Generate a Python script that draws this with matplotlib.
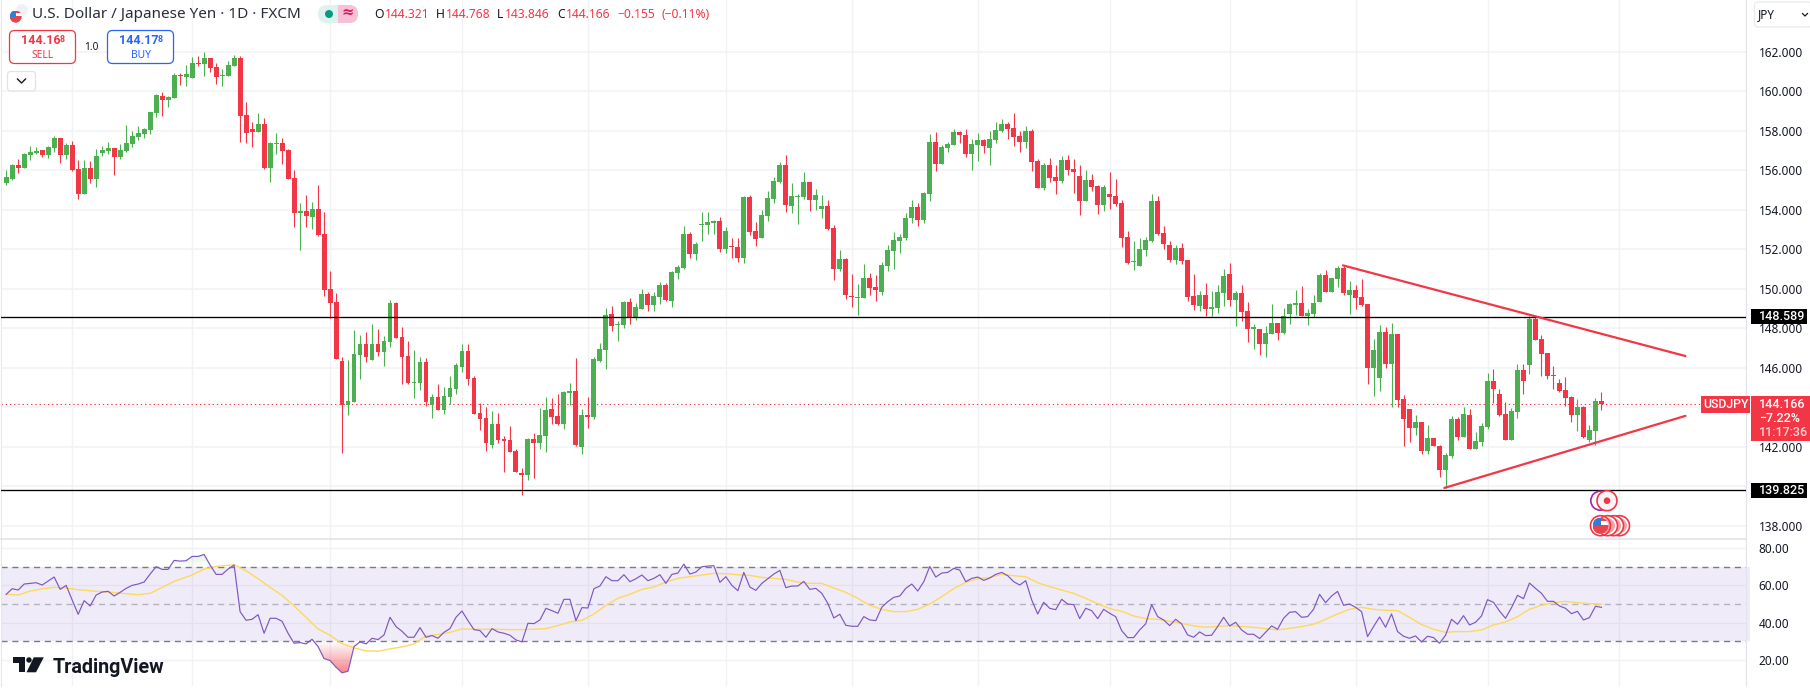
"""USD/JPY daily candles with RSI pane, TradingView style."""
import matplotlib
matplotlib.use("Agg")
import matplotlib.pyplot as plt
import numpy as np
from matplotlib.patches import Circle, FancyBboxPatch, Polygon, Rectangle
from matplotlib.path import Path

plt.rcParams["font.family"] = ["Noto Sans", "DejaVu Sans"]

W, H = 1810, 689
RED = "#f23645"
GREEN = "#4caf50"
BLUE = "#2962ff"
INK = "#131722"
GRID = "#f1f2f5"

opens = [
    155.35, 155.57, 156.24, 156.13, 156.78, 156.87, 157.00, 156.77, 157.14, 157.63,
    156.78, 157.27, 156.06, 154.81, 156.11, 155.57, 156.87, 156.97, 157.12, 156.67,
    156.97, 157.32, 157.68, 157.83, 158.03, 158.89, 159.75, 159.55, 159.65, 160.83,
    160.72, 160.67, 161.43, 161.37, 161.68, 161.22, 160.77, 160.77, 161.27, 161.68,
    158.79, 158.08, 157.93, 158.34, 156.11, 157.32, 157.37, 157.02, 155.60, 153.83,
    153.93, 153.63, 154.03, 152.77, 149.98, 149.32, 146.34, 144.11, 144.26, 146.64,
    147.20, 146.39, 147.20, 146.79, 147.30, 149.27, 147.55, 146.59, 145.22, 145.22,
    146.29, 144.11, 144.51, 143.86, 144.51, 144.92, 146.03, 146.84, 145.48, 143.70,
    143.45, 142.08, 143.15, 142.39, 142.34, 141.78, 140.67, 140.56, 142.39, 142.18,
    142.54, 143.91, 143.55, 143.15, 144.72, 144.82, 141.98, 143.60, 143.50, 146.34,
    146.89, 148.72, 148.16, 148.16, 149.32, 148.51, 148.97, 149.73, 149.17, 149.58,
    150.18, 149.37, 150.79, 151.05, 152.77, 151.75, 153.22, 153.22, 153.32, 153.43,
    152.01, 152.16, 152.11, 151.55, 154.64, 152.92, 152.56, 153.68, 154.54, 155.40,
    156.26, 154.18, 154.66, 154.64, 155.40, 154.49, 154.03, 154.18, 153.07, 150.99,
    151.50, 149.63, 149.53, 149.53, 150.54, 150.08, 149.83, 151.15, 151.91, 152.41,
    152.56, 153.58, 154.13, 153.48, 154.79, 157.43, 156.31, 157.12, 157.27, 157.93,
    157.78, 156.82, 157.27, 157.53, 157.12, 157.53, 157.98, 158.34, 158.13, 157.73,
    157.43, 157.98, 156.46, 155.10, 156.26, 155.65, 155.45, 156.51, 156.06, 155.70,
    154.44, 155.50, 155.20, 154.24, 154.79, 154.69, 154.34, 152.62, 151.35, 151.15,
    151.96, 152.41, 154.44, 152.82, 152.21, 151.45, 152.06, 151.45, 149.63, 149.12,
    149.68, 148.97, 149.02, 149.78, 150.74, 149.43, 149.78, 148.87, 147.96, 147.96,
    147.20, 147.71, 148.26, 147.76, 148.72, 149.17, 149.27, 148.62, 148.72, 149.33,
    150.69, 149.83, 150.49, 151.05, 149.68, 149.93, 149.58, 149.22, 145.98, 145.48,
    147.81, 146.19, 147.71, 144.41, 143.91, 142.95, 143.25, 141.78, 142.44, 142.03,
    140.82, 141.53, 143.40, 142.49, 143.60, 141.88, 142.24, 142.99, 145.33, 144.67,
    143.66, 142.34, 143.76, 145.88, 146.14, 148.47, 147.45, 146.74, 145.63, 145.22,
    144.87, 144.52, 143.60, 144.01, 142.34, 142.79, 144.321,
]
highs = [
    156.01, 156.31, 156.56, 156.87, 157.21, 157.16, 157.00, 157.21, 157.73, 157.63,
    157.37, 157.48, 156.51, 156.51, 156.46, 157.07, 157.21, 157.43, 157.12, 157.32,
    158.29, 157.98, 158.24, 158.13, 158.94, 159.86, 159.96, 159.75, 160.92, 160.92,
    161.32, 161.73, 161.78, 161.98, 161.68, 161.43, 161.12, 161.53, 161.83, 161.78,
    159.45, 158.44, 158.89, 158.64, 157.43, 157.88, 157.63, 157.07, 156.01, 154.34,
    154.74, 154.39, 155.25, 153.88, 150.89, 149.78, 146.54, 146.39, 147.91, 147.65,
    147.80, 148.21, 147.96, 147.60, 149.42, 149.34, 148.06, 147.35, 146.89, 146.54,
    146.49, 144.67, 145.17, 145.02, 145.58, 146.23, 147.20, 147.20, 145.58, 144.21,
    144.01, 143.80, 143.70, 142.54, 143.05, 141.88, 140.92, 142.44, 142.69, 143.96,
    144.51, 144.46, 144.67, 144.82, 145.22, 146.49, 143.91, 144.51, 146.54, 147.25,
    149.02, 149.12, 148.36, 149.37, 149.53, 149.27, 149.98, 149.83, 149.83, 150.34,
    150.29, 150.89, 151.20, 153.17, 152.87, 152.36, 153.88, 153.88, 153.48, 153.63,
    153.12, 152.56, 152.56, 154.69, 154.74, 153.37, 153.98, 154.94, 155.65, 156.41,
    156.77, 155.35, 154.79, 155.91, 155.40, 155.05, 154.74, 154.49, 153.22, 151.96,
    151.55, 150.74, 150.24, 151.25, 150.79, 150.69, 151.35, 152.21, 152.87, 152.77,
    153.83, 154.49, 154.34, 154.89, 157.83, 157.93, 157.27, 157.43, 158.08, 157.98,
    158.08, 157.58, 157.88, 157.58, 157.98, 158.44, 158.59, 158.44, 158.89, 157.98,
    158.24, 158.08, 156.56, 156.36, 156.62, 156.26, 156.72, 156.77, 156.56, 156.26,
    156.01, 155.80, 155.25, 155.25, 155.91, 155.55, 154.49, 152.92, 152.41, 152.56,
    152.62, 154.79, 154.69, 153.17, 152.41, 152.21, 152.31, 151.45, 150.74, 149.88,
    150.29, 149.88, 150.19, 151.00, 151.30, 149.88, 150.19, 149.33, 148.21, 147.96,
    148.11, 149.22, 148.26, 149.02, 149.27, 149.93, 150.14, 148.97, 149.68, 150.79,
    150.95, 150.54, 151.15, 151.15, 150.39, 150.19, 150.49, 149.22, 147.45, 148.16,
    148.06, 148.26, 147.71, 144.62, 143.91, 143.60, 143.25, 143.10, 142.44, 142.08,
    141.68, 143.55, 143.50, 144.01, 143.91, 142.74, 143.20, 145.73, 145.93, 144.92,
    144.26, 143.96, 146.19, 146.19, 148.62, 148.57, 147.65, 146.74, 146.09, 145.43,
    145.53, 144.57, 144.41, 144.06, 143.10, 144.47, 144.768,
]
lows = [
    155.25, 155.50, 155.87, 156.11, 156.51, 156.82, 156.68, 156.62, 156.94, 156.36,
    156.58, 155.97, 154.56, 154.81, 155.35, 155.15, 156.72, 156.82, 155.75, 156.56,
    156.92, 157.17, 157.53, 157.63, 157.83, 158.69, 158.74, 159.20, 159.65, 160.31,
    160.26, 160.67, 161.27, 160.77, 160.97, 160.36, 160.26, 160.77, 161.27, 157.43,
    157.37, 157.17, 157.93, 156.06, 155.40, 156.82, 156.31, 155.55, 153.12, 151.96,
    153.12, 153.02, 152.67, 149.63, 148.53, 146.44, 141.68, 143.60, 144.26, 145.43,
    146.29, 146.39, 146.59, 146.08, 147.05, 147.50, 145.17, 145.17, 144.46, 144.87,
    144.06, 143.45, 143.86, 143.65, 144.16, 144.67, 145.78, 145.12, 143.65, 142.84,
    141.78, 141.93, 142.18, 140.72, 141.73, 140.72, 139.55, 140.31, 140.41, 141.88,
    141.73, 143.15, 143.10, 142.89, 144.11, 142.03, 141.63, 142.94, 143.40, 146.29,
    145.93, 147.86, 147.35, 148.01, 148.21, 148.41, 148.97, 148.87, 148.87, 149.22,
    149.37, 149.07, 150.49, 151.00, 151.55, 151.45, 152.41, 152.77, 152.77, 151.86,
    151.80, 151.55, 151.35, 151.30, 152.72, 152.16, 152.56, 153.43, 154.34, 155.35,
    153.88, 153.83, 153.27, 154.54, 153.93, 153.98, 153.58, 152.97, 150.44, 150.89,
    149.48, 149.07, 148.67, 149.53, 149.68, 149.37, 149.68, 150.89, 150.99, 151.80,
    152.46, 153.32, 153.17, 153.32, 154.44, 155.96, 156.31, 156.92, 157.27, 157.37,
    156.67, 156.01, 156.46, 156.87, 156.26, 157.37, 157.93, 157.58, 157.22, 156.92,
    157.12, 155.96, 155.10, 155.00, 155.40, 154.79, 155.35, 155.75, 154.84, 153.73,
    154.44, 154.94, 153.78, 153.93, 154.03, 154.18, 152.11, 151.25, 150.94, 151.15,
    151.65, 152.36, 152.72, 152.01, 151.35, 151.25, 151.25, 149.37, 148.92, 148.87,
    148.62, 148.62, 148.77, 149.12, 149.12, 148.11, 148.36, 147.30, 146.95, 146.64,
    146.54, 147.71, 147.40, 147.71, 148.21, 148.67, 148.62, 148.16, 148.57, 149.33,
    149.83, 149.83, 150.08, 149.68, 148.72, 148.97, 149.12, 145.17, 144.57, 144.82,
    145.98, 144.01, 144.01, 142.03, 142.24, 142.59, 141.63, 141.63, 142.03, 140.47,
    139.91, 141.43, 142.34, 142.49, 141.88, 141.88, 142.03, 142.90, 144.21, 143.55,
    142.34, 142.34, 143.45, 144.67, 145.68, 147.40, 145.58, 145.43, 144.92, 144.77,
    144.06, 143.25, 142.79, 142.44, 142.24, 142.09, 143.846,
]
closes = [
    155.65, 156.24, 156.11, 156.82, 156.92, 156.97, 156.77, 157.17, 157.63, 156.78,
    157.27, 156.02, 154.81, 156.11, 155.57, 156.72, 157.02, 157.12, 156.67, 157.02,
    157.38, 157.73, 157.88, 158.08, 158.94, 159.81, 159.55, 159.70, 160.82, 160.78,
    160.87, 161.43, 161.36, 161.68, 161.17, 160.72, 160.82, 161.32, 161.68, 158.74,
    157.88, 157.93, 158.34, 156.11, 157.37, 157.37, 156.97, 155.55, 153.83, 153.93,
    153.68, 154.03, 152.72, 149.93, 149.27, 146.44, 144.11, 144.31, 146.69, 147.20,
    146.54, 147.20, 146.79, 147.35, 149.27, 147.50, 146.54, 145.22, 145.27, 146.29,
    144.26, 144.51, 143.86, 144.56, 144.97, 146.13, 146.84, 145.43, 143.65, 143.40,
    142.18, 143.15, 142.34, 142.29, 141.73, 140.72, 140.56, 142.39, 142.18, 142.59,
    143.86, 143.50, 143.15, 144.77, 144.82, 142.08, 143.60, 143.50, 146.44, 146.94,
    148.67, 148.11, 148.21, 149.32, 148.51, 149.07, 149.73, 149.17, 149.63, 150.18,
    149.43, 150.84, 151.10, 152.77, 151.75, 152.26, 153.27, 153.37, 153.43, 152.01,
    152.92, 152.11, 151.55, 154.64, 152.87, 152.51, 153.73, 154.59, 155.45, 156.26,
    154.24, 154.69, 154.71, 155.40, 154.49, 154.74, 154.18, 153.02, 150.99, 151.50,
    149.68, 149.58, 149.58, 150.54, 150.03, 149.93, 151.20, 151.96, 152.46, 152.62,
    153.58, 154.13, 153.48, 154.84, 157.43, 156.31, 157.17, 157.32, 157.93, 157.78,
    156.82, 157.32, 157.53, 157.22, 157.58, 158.03, 158.34, 158.08, 157.68, 157.43,
    157.98, 156.41, 155.10, 156.26, 155.60, 155.45, 156.51, 156.01, 155.91, 154.44,
    155.50, 155.15, 154.24, 155.15, 154.64, 154.29, 152.56, 151.30, 151.40, 152.01,
    152.46, 154.44, 152.77, 152.26, 151.45, 152.06, 151.40, 149.58, 149.17, 149.68,
    148.97, 149.07, 149.83, 150.64, 149.43, 149.78, 148.82, 147.96, 148.06, 147.20,
    147.76, 148.26, 147.76, 148.62, 149.22, 149.27, 148.62, 148.77, 149.27, 150.69,
    149.83, 150.54, 151.05, 149.78, 149.93, 149.53, 149.17, 145.98, 146.90, 147.81,
    146.19, 147.71, 144.36, 143.40, 142.95, 143.25, 141.78, 142.44, 142.03, 140.82,
    141.58, 143.40, 142.49, 143.66, 141.88, 142.29, 143.05, 145.33, 144.92, 143.60,
    142.34, 143.81, 145.88, 145.33, 148.47, 147.40, 146.69, 145.58, 145.58, 144.82,
    144.47, 143.60, 144.01, 142.49, 142.84, 144.31, 144.166,
]

rsi = [
    55.15, 58.17, 57.46, 60.65, 61.00, 61.36, 60.12, 62.25, 64.38, 57.81,
    59.94, 52.13, 44.50, 51.78, 48.94, 54.79, 56.39, 56.75, 54.26, 56.21,
    58.34, 59.94, 60.65, 61.72, 65.98, 69.88, 68.46, 68.46, 73.26, 72.90,
    73.08, 75.39, 75.39, 76.45, 70.77, 65.80, 65.80, 68.64, 70.77, 45.92,
    41.30, 41.83, 44.32, 34.38, 42.37, 42.37, 40.77, 34.38, 29.05, 29.41,
    28.70, 31.18, 27.28, 20.89, 19.82, 16.27, 13.25, 14.14, 27.28, 29.76,
    28.70, 31.72, 31.00, 33.49, 42.90, 37.93, 35.44, 32.25, 32.25, 37.40,
    32.25, 33.14, 31.72, 34.91, 36.86, 42.90, 46.27, 41.12, 36.33, 35.80,
    32.25, 36.86, 35.09, 34.38, 33.32, 30.83, 29.76, 39.70, 39.53, 41.48,
    47.69, 46.45, 45.03, 52.49, 52.49, 41.12, 48.05, 47.87, 58.17, 59.59,
    64.56, 62.43, 62.43, 65.62, 61.89, 63.49, 65.45, 62.43, 63.67, 65.62,
    61.00, 65.80, 66.51, 71.30, 65.98, 67.04, 69.88, 70.24, 70.42, 61.54,
    64.56, 59.94, 57.10, 66.86, 59.05, 57.28, 61.00, 63.49, 65.98, 67.93,
    58.70, 59.59, 59.59, 62.07, 57.81, 58.34, 55.68, 50.36, 42.54, 44.50,
    38.64, 38.11, 38.11, 43.25, 41.48, 41.12, 48.23, 51.24, 53.55, 54.26,
    58.34, 60.65, 56.92, 61.89, 70.06, 64.38, 66.51, 66.86, 69.00, 68.11,
    61.89, 63.67, 64.38, 62.60, 63.85, 65.80, 66.86, 65.09, 61.89, 60.12,
    62.43, 52.13, 44.68, 50.89, 47.69, 46.98, 52.49, 50.00, 49.65, 42.19,
    47.69, 46.45, 42.19, 47.16, 45.03, 43.25, 35.80, 32.07, 32.07, 36.15,
    39.35, 49.65, 43.25, 41.48, 38.46, 41.83, 39.35, 33.49, 32.25, 35.09,
    33.14, 33.31, 37.93, 42.90, 38.28, 40.24, 36.15, 33.85, 33.85, 31.54,
    34.91, 38.28, 36.51, 42.37, 45.56, 45.92, 42.90, 43.25, 47.16, 55.15,
    50.71, 54.26, 56.75, 49.29, 50.00, 48.23, 45.92, 32.60, 37.93, 43.08,
    37.57, 44.68, 35.27, 32.78, 31.72, 32.96, 29.76, 32.78, 32.07, 29.05,
    33.31, 41.83, 39.17, 43.79, 38.82, 40.24, 43.61, 52.31, 50.89, 46.27,
    42.37, 48.05, 54.62, 52.84, 61.18, 58.34, 55.68, 51.42, 51.42, 48.94,
    47.69, 44.85, 46.09, 41.48, 42.72, 48.76, 48.23,
]
# RSI average, read every couple of candles
rsi_ma_idx = [
    0, 2, 4, 6, 8, 10, 12, 15, 17, 20, 22, 24, 26, 28, 31, 33, 35, 38, 40, 42,
    44, 46, 48, 50, 52, 54, 56, 58, 60, 62, 64, 66, 68, 70, 72, 74, 76, 78, 80, 82,
    84, 86, 88, 90, 92, 94, 96, 98, 100, 102, 104, 106, 108, 110, 112, 114, 116, 118, 120, 122,
    124, 126, 128, 130, 132, 134, 136, 138, 140, 142, 144, 146, 148, 150, 152, 154, 156, 158, 160, 162,
    164, 166, 168, 170, 172, 174, 176, 178, 180, 182, 184, 186, 188, 190, 192, 194, 196, 198, 200, 204,
    208, 212, 216, 218, 220, 222, 224, 226, 228, 230, 232, 234, 236, 238, 240, 242, 244, 246, 248, 250,
    252, 254, 256, 258, 260, 262, 264, 266,
]
rsi_ma = [
    55.15, 54.79, 56.92, 58.17, 58.88, 58.52, 57.63, 56.75, 56.39, 55.50, 54.97, 55.68, 58.88, 62.07, 65.45, 68.64, 70.06, 70.95, 67.75, 63.49,
    58.88, 54.62, 48.94, 42.90, 36.69, 33.31, 28.87, 26.57, 24.97, 24.79, 26.04, 27.10, 28.70, 32.96, 33.67, 34.91, 36.69, 36.51, 36.51, 36.51,
    36.33, 36.33, 36.51, 36.86, 38.46, 40.41, 41.30, 44.68, 49.29, 53.02, 55.15, 57.81, 59.05, 61.72, 63.67, 64.56, 65.45, 66.33, 66.16, 65.62,
    65.27, 64.20, 63.67, 63.14, 61.72, 61.00, 61.00, 58.52, 56.21, 53.02, 49.29, 47.16, 45.92, 45.92, 47.16, 50.00, 53.91, 58.17, 61.54, 63.49,
    64.20, 65.80, 65.09, 64.56, 61.36, 59.23, 57.46, 55.68, 53.02, 50.18, 47.52, 46.09, 43.61, 42.19, 41.83, 40.77, 39.70, 38.28, 37.57, 38.46,
    37.57, 36.15, 37.93, 39.17, 41.83, 44.68, 47.16, 48.23, 47.16, 46.63, 46.45, 42.90, 39.00, 36.51, 34.91, 35.27, 35.27, 36.15, 38.82, 40.41,
    43.25, 47.16, 49.29, 50.71, 51.42, 50.71, 50.18, 49.82,
]

price_ticks = [162, 160, 158, 156, 154, 152, 150, 148, 146, 144, 142, 140, 138]
# 144 and 140 sit behind the last-price and level tags in the picture
price_labels = ["162.000", "160.000", "158.000", "156.000", "154.000", "152.000", "150.000",
                "148.000", "146.000", "", "142.000", "", "138.000"]
rsi_ticks = [80, 60, 40, 20]
# candles that carry a vertical grid line
grid_idx = [11, 31, 54, 76, 97, 120, 141, 162, 184, 204, 225, 247, 269]
levels = [148.589, 139.825]
last_price = 144.166
# trend lines, (candle, price) ends
upper_trend = ([222.9, 280.0], [151.18, 146.59])
lower_trend = ([239.8, 280.0], [139.91, 143.56])

opens, highs, lows, closes = map(np.array, (opens, highs, lows, closes))
rsi = np.array(rsi)
x = np.arange(len(opens))
XLIM = (-0.9, 290.02)


def px_axes(x0, y0, x1, y1):
    return fig.add_axes([x0 / W, 1 - y1 / H, (x1 - x0) / W, (y1 - y0) / H])


def clean(ax):
    for side in ("top", "bottom"):
        ax.spines[side].set_visible(False)
    ax.spines["left"].set_color("#e6e7ea")
    ax.spines["right"].set_color("#e0e3eb")
    ax.set_xticks([])
    ax.tick_params(axis="y", left=False, right=False, labelleft=False, labelright=True,
                   length=0, pad=9.6, labelsize=8.5, labelcolor=INK)
    for g in grid_idx:
        ax.axvline(g, color=GRID, lw=1.0, zorder=0)


fig = plt.figure(figsize=(W / 100, H / 100), dpi=100, facecolor="white")

# ── price pane ──
ax = px_axes(0.8, 0, 1745.5, 539.3)
clean(ax)
ax.spines["bottom"].set_visible(True)
ax.spines["bottom"].set_color("#e0e3eb")
ax.spines["bottom"].set_linewidth(1.2)
for p in price_ticks:
    ax.axhline(p, color=GRID, lw=1.1, zorder=0)

colors = np.where(closes >= opens, GREEN, RED)
ax.vlines(x, lows, highs, colors=colors, lw=0.8, zorder=2)
body_low = np.minimum(opens, closes)
body_h = np.maximum(np.abs(closes - opens), 0.055)
ax.bar(x, body_h, 0.82, bottom=body_low, color=colors, linewidth=0, zorder=3)

for lvl in levels:
    ax.axhline(lvl, color="black", lw=0.95, zorder=4)
ax.axhline(last_price, color=RED, lw=0.8, ls=(0, (1.2, 2.6)), zorder=1)
ax.plot(*upper_trend, color=RED, lw=1.6, zorder=5, solid_capstyle="round")
ax.plot(*lower_trend, color=RED, lw=1.6, zorder=5, solid_capstyle="round")
ax.set_yticks(price_ticks, price_labels)
ax.set_xlim(*XLIM)
ax.set_ylim(137.31, 164.618)

# ── RSI pane ──
ax2 = px_axes(0.8, 539.9, 1745.5, 685.7)
clean(ax2)
for v in rsi_ticks:
    ax2.axhline(v, color=GRID, lw=1.0, zorder=0)
ax2.axhspan(30, 70, xmax=1.0025, color="#7e57c2", alpha=0.115, lw=0, zorder=1, clip_on=False)
ax2.axhline(70, color="#787b86", lw=1.0, ls=(0, (4.4, 3.4)), zorder=2)
ax2.axhline(50, color="#787b86", lw=1.0, ls=(0, (4.4, 3.4)), alpha=0.5, zorder=2)
ax2.axhline(30, color="#787b86", lw=1.0, ls=(0, (4.4, 3.4)), zorder=2)

# gradient fills past the 70 / 30 bands
low_fill = ax2.fill_between(x, rsi, 30, where=rsi < 30, interpolate=True, facecolor="none", lw=0)
high_fill = ax2.fill_between(x, rsi, 70, where=rsi > 70, interpolate=True, facecolor="none", lw=0)
red_grad = np.zeros((64, 1, 4))
red_grad[..., :3] = (0.95, 0.21, 0.27)
red_grad[..., 3] = np.linspace(0.62, 0.0, 64)[:, None]
im = ax2.imshow(red_grad, extent=(XLIM[0], XLIM[1], 13, 30), origin="lower", aspect="auto", zorder=2)
im.set_clip_path(Path.make_compound_path(*low_fill.get_paths()), transform=ax2.transData)
green_grad = np.zeros((64, 1, 4))
green_grad[..., :3] = (0.3, 0.69, 0.31)
green_grad[..., 3] = np.linspace(0.0, 0.2, 64)[:, None]
im = ax2.imshow(green_grad, extent=(XLIM[0], XLIM[1], 70, 77), origin="lower", aspect="auto", zorder=2)
im.set_clip_path(Path.make_compound_path(*high_fill.get_paths()), transform=ax2.transData)

ax2.plot(rsi_ma_idx, rsi_ma, color="#fdd95c", lw=1.0, zorder=3)
ax2.plot(x, rsi, color="#7e57c2", lw=0.85, zorder=4)
ax2.set_yticks(rsi_ticks, [f"{v:.2f}" for v in rsi_ticks])
ax2.set_xlim(*XLIM)
ax2.set_ylim(6.4, 84.2)

# ── overlay in pixel space: header, tags, logo ──
ov = fig.add_axes([0, 0, 1, 1], zorder=10)
ov.set_xlim(0, W)
ov.set_ylim(H, 0)
ov.axis("off")


def txt(px, py, s, color=INK, size=8.5, ha="left", weight="normal", **kw):
    ov.text(px, py, s, color=color, fontsize=size, ha=ha, va="center", fontweight=weight, **kw)


def box(x0, y0, x1, y1, r=0.0, **kw):
    patch = FancyBboxPatch((x0, y0), x1 - x0, y1 - y0, boxstyle=f"round,pad=0,rounding_size={r}", **kw)
    ov.add_patch(patch)
    return patch


def flag(cx, cy, r):
    ov.add_patch(Circle((cx, cy), r, facecolor="white", lw=0))
    clip = Circle((cx, cy), r, transform=ov.transData)
    for i, top in enumerate(np.arange(cy - r, cy + r, r / 2.2)):
        if i % 2 == 0:
            s = Rectangle((cx - r, top), 2 * r, r / 2.2, facecolor="#e9434d", lw=0)
            ov.add_patch(s)
            s.set_clip_path(clip)
    s = Rectangle((cx - r, cy + r * 0.25), 2 * r, r, facecolor="#e9434d", lw=0)
    ov.add_patch(s)
    s.set_clip_path(clip)
    s = Rectangle((cx - r, cy - r), r, r * 1.05, facecolor="#2f7fd8", lw=0)
    ov.add_patch(s)
    s.set_clip_path(clip)


# header
ov.add_patch(Circle((22, 10), 6, facecolor="#eef0f5", lw=0))
flag(15.7, 16.5, 6)
txt(32, 15, "U.S. Dollar / Japanese Yen · 1D · FXCM", size=11.0, color="#2a2e39")
pill = box(318, 5, 358, 23, r=9, facecolor="#def2ee", lw=0)
r = Rectangle((338, 5), 20, 18, facecolor="#f6c1d4", lw=0)
ov.add_patch(r)
r.set_clip_path(pill)
ov.add_patch(Circle((329, 14), 4, facecolor="#089981", lw=0))
txt(347.5, 13.5, "≈", color="#d81b60", size=10.5, ha="center", weight="bold")

for px, s, col in [(374, "O", INK), (385, "144.321", RED), (436, "H", INK), (446, "144.768", RED),
                   (497, "L", INK), (505, "143.846", RED), (557, "C", INK), (566, "144.166", RED),
                   (617, "−0.155", RED), (661, "(−0.11%)", RED)]:
    txt(px, 15, s, color=col, size=8.7)

# sell / buy
box(9.5, 30.5, 75.5, 63.5, r=5, facecolor="white", edgecolor=RED, lw=0.9)
txt(21, 41, "144.16", color=RED, size=9.0, weight="bold", family="Roboto")
txt(59.5, 39.5, "8", color=RED, size=6.4, weight="bold", family="Roboto")
txt(42.5, 55, "SELL", color=RED, size=7.4, ha="center")
txt(91.5, 47.5, "1.0", size=7.2, ha="center")
box(107.5, 30.5, 173.5, 63.5, r=5, facecolor="white", edgecolor=BLUE, lw=0.9)
txt(119, 41, "144.17", color=BLUE, size=9.0, weight="bold", family="Roboto")
txt(157.5, 39.5, "8", color=BLUE, size=6.4, weight="bold", family="Roboto")
txt(140.5, 55, "BUY", color=BLUE, size=7.4, ha="center")
box(7.5, 71.5, 35.5, 91, r=3, facecolor="white", edgecolor="#e0e3eb", lw=0.9)
ov.plot([17.5, 21.5, 25.5], [79, 83, 79], color=INK, lw=1.0)

# currency button
box(1754.5, 2, 1812, 27, r=4, facecolor="white", edgecolor="#e8eaef", lw=0.9)
txt(1758, 14.5, "JPY", size=8.5)
ov.plot([1802.5, 1805, 1807.5], [13.5, 16, 13.5], color=INK, lw=0.9)

# last price and level tags
ov.add_patch(Rectangle((1701, 396), 49, 17, facecolor=RED, lw=0))
txt(1725.5, 404.2, "USDJPY", color="white", size=8.8, ha="center", weight="medium", family="Roboto")
ov.add_patch(Rectangle((1751, 396), 59, 45, facecolor=RED, lw=0))
txt(1759, 404.3, "144.166", color="white", size=9.0, weight="medium", family="Roboto")
txt(1759, 418.8, "−7.22%", color="white", size=9.0, weight="medium", family="Roboto")
txt(1759, 432.8, "11:17:36", color="#ffd4d8", size=9.0, weight="medium", family="Roboto")
for lvl, y0 in zip(levels, (308.8, 482.6)):
    ov.add_patch(Rectangle((1751, y0), 56, 15.6, facecolor="black", lw=0))
    txt(1759, y0 + 7.8, f"{lvl:.3f}", color="white", size=9.0, weight="medium", family="Roboto")

# event markers
ov.add_patch(Circle((1600.3, 500.7), 9.5, facecolor="white", edgecolor="#9c27b0", lw=1.2))
ov.add_patch(Circle((1607, 500.7), 10, facecolor="#fbf3f5", edgecolor=RED, lw=1.2))
ov.add_patch(Circle((1607, 500.7), 3.3, facecolor=RED, lw=0))
for cx in (1619.5, 1613.5, 1607.5):
    ov.add_patch(Circle((cx, 525.7), 10, facecolor="white", edgecolor=RED, lw=1.2))
    ov.add_patch(Circle((cx, 525.7), 7.5, facecolor="#f0a3a8", lw=0))
flag(1600.5, 525.7, 8)
ov.add_patch(Circle((1600.5, 525.7), 10, facecolor="none", edgecolor=RED, lw=1.2))

# logo
ov.add_patch(Polygon([(13.3, 657.3), (25.3, 657.3), (25.3, 672.3), (19.3, 672.3), (19.3, 662.5), (13.3, 662.5)],
                     facecolor="#131722", lw=0))
ov.add_patch(Circle((29, 660), 2.7, facecolor="#131722", lw=0))
ov.add_patch(Polygon([(33.8, 657.3), (43.8, 657.3), (36, 672.3), (26.5, 672.3)], facecolor="#131722", lw=0))
ov.text(52.2, 672.8, "TradingView", color="#131722", fontsize=14.2, fontweight="semibold",
        family="Roboto", va="baseline")

fig.savefig("out.png", dpi=100)
